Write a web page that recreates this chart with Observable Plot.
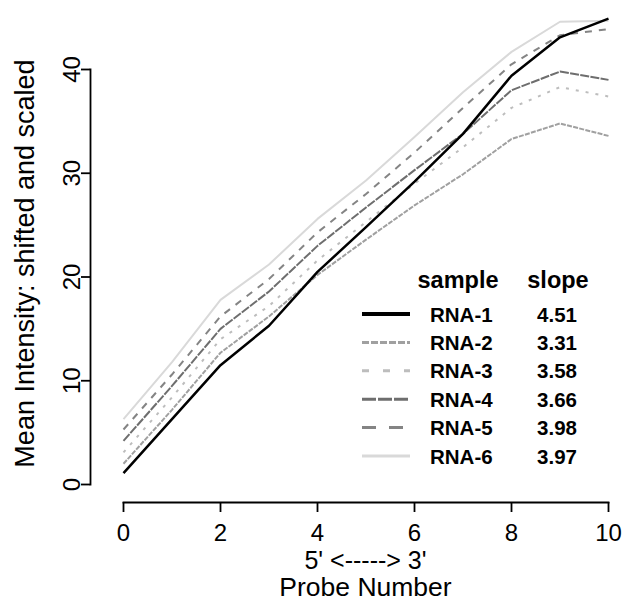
<!DOCTYPE html>
<html><head><meta charset="utf-8">
<script src="https://cdn.jsdelivr.net/npm/d3@7"></script>
<script src="https://cdn.jsdelivr.net/npm/@observablehq/plot@0.6"></script>
<style>
body{margin:0;background:#fff}
#chart{position:relative;width:623px;height:607px;font-family:"Liberation Sans",Arial,sans-serif}
#legend{position:absolute;left:0;top:0}
</style>
</head><body><div id="chart"></div>
<script>
const probes = [0,1,2,3,4,5,6,7,8,9,10];
const samples = ["RNA-1","RNA-2","RNA-3","RNA-4","RNA-5","RNA-6"];
const slopes = ["4.51","3.31","3.58","3.66","3.98","3.97"];
const rna1 = [1.1, 6.3, 11.5, 15.3, 20.5, 24.8, 29.2, 33.8, 39.4, 43.1, 44.9];
const rna2 = [2.0, 7.2, 12.7, 16.2, 20.2, 23.6, 26.9, 29.9, 33.3, 34.8, 33.6];
const rna3 = [3.1, 8.4, 14.0, 17.2, 21.6, 25.3, 29.0, 32.5, 36.3, 38.3, 37.4];
const rna4 = [4.2, 9.5, 15.0, 18.6, 23.0, 26.7, 30.3, 33.8, 38.0, 39.8, 39.0];
const rna5 = [5.3, 10.6, 16.2, 19.8, 24.3, 28.0, 32.0, 36.3, 40.5, 43.3, 43.9];
const rna6 = [6.3, 11.8, 17.8, 21.2, 25.6, 29.3, 33.5, 37.8, 41.7, 44.6, 44.7];
const xTicks = [0,2,4,6,8,10];
const yTicks = [0,10,20,30,40];

const series = [rna1, rna2, rna3, rna4, rna5, rna6];
// styles
const colors = ["#000000","#a0a0a0","#bdbdbd","#6e6e6e","#848484","#d9d9d9"];
const widths = [2.5, 2, 2, 2, 2, 2];
const dashes = [null, "5,1.3", "3,7", "9,1.3", "7,7", null];
const legWidths = [4, 3, 3, 3, 3, 3];
const legDashes = [null, "7,2", "7,14", "14,2", "14,13", null];

const rows = samples.map((s, i) => series[i].map((v, j) => ({sample: s, probe: probes[j], value: v})));

const W = 623, H = 607;
const font = "Liberation Sans, Arial, Helvetica, sans-serif";

const plot = Plot.plot({
  width: W, height: H,
  marginLeft: 90, marginRight: 15, marginTop: 69, marginBottom: H - 502,
  x: {domain: [0, 10], insetLeft: 33},
  y: {domain: [0, 40], insetBottom: 18},
  style: {fontFamily: font, fontSize: "24px", color: "#000", background: "#fff", overflow: "visible"},
  marks: [
    Plot.frame({anchor: "left", insetBottom: 18, stroke: "#000", strokeWidth: 1.8, strokeOpacity: 1}),
    Plot.frame({anchor: "bottom", insetLeft: 33, stroke: "#000", strokeWidth: 1.8, strokeOpacity: 1}),
    Plot.axisX({ticks: xTicks, tickSize: 10, tickPadding: 11, tickFormat: d => String(d), label: null, fontSize: 24, strokeWidth: 1.8, strokeOpacity: 1}),
    Plot.axisY({ticks: yTicks, tickSize: 9, tickRotate: -90, tickPadding: 2, tickFormat: d => String(d), label: null, fontSize: 24, strokeWidth: 1.8, strokeOpacity: 1}),
    ...rows.map((r, i) => Plot.line(r, {
      x: "probe", y: "value",
      stroke: colors[i], strokeWidth: widths[i],
      strokeDasharray: dashes[i] || undefined,
      strokeLinejoin: "round", strokeLinecap: "butt"
    })).reverse(),
    Plot.text(["5' <-----> 3'"], {text: d => d, frameAnchor: "bottom", dx: 16, dy: 66, fontSize: 25}),
    Plot.text(["Probe Number"], {text: d => d, frameAnchor: "bottom", dx: 16, dy: 93, fontSize: 26.5}),
    Plot.text(["Mean Intensity: shifted and scaled"], {text: d => d, frameAnchor: "left", textAnchor: "middle", rotate: -90, dx: -65, dy: -22.5, fontSize: 27})
  ]
});

const chart = document.getElementById("chart");
chart.appendChild(plot);

// legend overlay
const leg = d3.select(chart).append("svg")
  .attr("id", "legend").attr("width", W).attr("height", H)
  .style("font-family", font);
const rowY0 = 314, rowStep = 28.4;
leg.append("text").attr("x", 458).attr("y", 280).attr("text-anchor", "middle")
  .attr("dominant-baseline", "central").attr("font-weight", "bold").attr("font-size", 23.5).text("sample");
leg.append("text").attr("x", 558).attr("y", 280).attr("text-anchor", "middle")
  .attr("dominant-baseline", "central").attr("font-weight", "bold").attr("font-size", 23.5).text("slope");
samples.forEach((s, i) => {
  const y = rowY0 + i * rowStep;
  const ln = leg.append("line").attr("x1", 362).attr("x2", 410).attr("y1", y).attr("y2", y)
    .attr("stroke", colors[i]).attr("stroke-width", legWidths[i]);
  if (legDashes[i]) ln.attr("stroke-dasharray", legDashes[i]);
  leg.append("text").attr("x", 430).attr("y", y).attr("dominant-baseline", "central")
    .attr("font-weight", "bold").attr("font-size", 20.5).text(s);
  leg.append("text").attr("x", 557).attr("y", y).attr("text-anchor", "middle").attr("dominant-baseline", "central")
    .attr("font-weight", "bold").attr("font-size", 20.5).text(slopes[i]);
});
</script>
</body></html>
